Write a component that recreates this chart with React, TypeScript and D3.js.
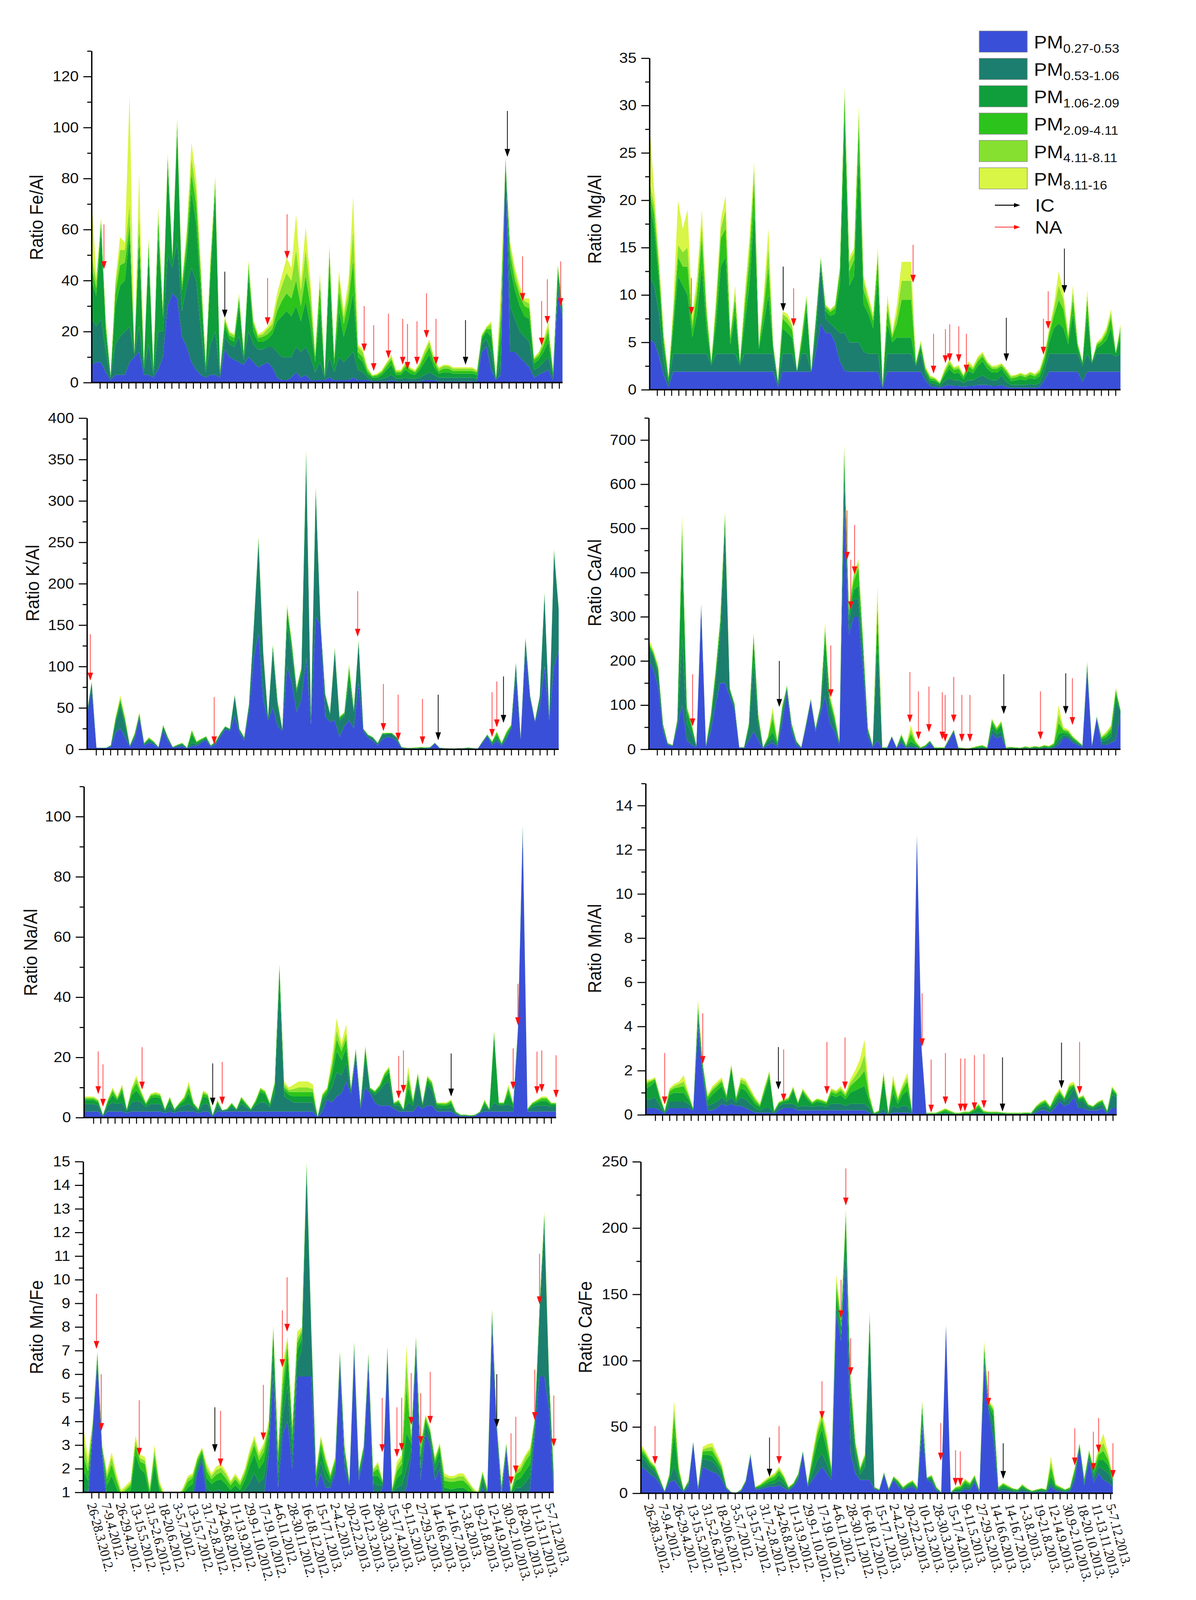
import { useEffect, useRef } from "react";
import * as d3 from "d3";

// sampling campaigns (one label every second tick)
const dateLabels = [
  "26-28.3.2012.", "7-9.4.2012.", "26-29.4.2012.", "13-15.5.2012.", "31.5-2.6.2012.", "18-20.6.2012.",
  "3-5.7.2012.", "13-15.7.2012.", "31.7-2.8.2012.", "24-26.8.2012.", "11-13.9.2012.", "29.9-1.10.2012.",
  "17-19.10.2012.", "4-6.11.2012.", "28-30.11.2012.", "16-18.12.2012.", "15-17.1.2013.", "2-4.2.2013.",
  "20-22.2.2013.", "10-12.3.2013.", "28-30.3.2013.", "15-17.4.2013.", "9-11.5.2013.", "27-29.5.2013.",
  "14-16.6.2013.", "14-16.7.2013.", "1-3.8.2013.", "19-21.8.2013.", "12-14.9.2013.", "30.9-2.10.2013.",
  "18-20.10.2013.", "11-13.11.2013.", "5-7.12.2013.",
];

const sizeFractions = ["0.27-0.53", "0.53-1.06", "1.06-2.09", "2.09-4.11", "4.11-8.11", "8.11-16"];
const fractionColors = ["#3a4fd8", "#1c7e6e", "#0f9e3b", "#2cc31c", "#86e02f", "#d9f545"];

// cumulative ratio up to each size fraction, 100 samples per panel
const feAl053 = [7,8,8,4,1,3,3,3,8,10, 12,3,3,2,5,10,30,35,33,18, 14,8,5,3,2,3,3,2,13,10, 9,8,7,10,8,6,7,8,6,2, 1,1,2,4,2,3,1,1,1,1, 2,1,1,1,1,2,1,1,1,0.5, 0.5,0.5,0.5,1,0.5,0.5,0.5,0.5,0.5,0.5, 1,1,1,0.5,0.5,0.5,0.5,0.5,0.5,0.5, 0.5,0.5,12,14,5,1,3,86,12,12, 10,8,6,2,3,4,5,1,35,25];
const feAl106 = [25,22,25,12,2,15,18,20,22,11, 22,5,15,3,20,20,50,45,55,28, 38,45,40,20,4,15,20,3,18,15, 14,18,9,20,15,13,13,14,14,12, 10,10,10,14,12,14,10,4,8,2, 10,4,10,8,10,12,5,4,2,1, 1,1.5,2,3,1.5,1.5,2,1.5,1.5,2, 3,4,3,2,2,2,2,2,2,2, 2,1.5,15,17,12,1.5,8,87,30,25, 20,18,16,5,6,8,10,2.5,38,27];
const feAl209 = [40,34,60,20,2.5,30,38,40,58,11.5, 55,6.5,50,4.5,58,26,85,48,98,36, 50,75,62,35,6,42,75,4,22,17, 16,30,10.5,42,20,16,16,17,19,24, 26,28,26,30,24,32,22,8,30,2.5, 44,7,28,18,25,35,10,8,3.5,2, 2,3,5,7,3,3,5,3.5,3,5, 8,11,6,3.5,4,4,3.5,3.5,3.5,3.5, 3.5,3,17,20,18,1.8,18,87.5,45,36, 30,26,25,7.5,9,12,16,3.5,43,29];
const feAl411 = [45,37,63,22,3,35,46,47,62,12, 60,7.5,54,5.5,64,28,88,49,101,38, 55,82,70,40,7,46,78,4.5,24,18.5, 17.5,33,11.5,45,23,17.5,18,19,21,28, 32,35,33,40,30,42,30,10,38,3, 50,9,36,23,32,48,12,10,4.5,2.5, 2.8,4,6.5,9,4,4,6.5,5,4,6.5, 10.5,14,8,4.5,5.5,5.5,4.5,4.5,4.5,4.5, 4.5,4,18,21,21,2,25,88,50,40, 34,30,29,9,10.5,14.5,20,4.5,45,29.5];
const feAl811 = [50,40,64,24,3,38,52,52,70,12, 66,8,56,6,67,29,89,50,103,39, 58,88,75,43,7.5,48,80,5,25,19.5, 18.5,34,12,47,24,18.5,19,21,23,32, 38,43,40,52,36,52,36,11,41,3, 53,10,41,26,36,60,14,12,5.5,2.8, 3.2,4.5,7.5,10,4.5,4.5,7.5,5.5,4.5,7.5, 12,16,9,5.5,6.5,6.5,5.5,5.5,5.5,5.5, 5.5,4.5,18.5,21.5,23,2,30,88,53,43, 36,32,31,9.5,11.5,16,22,5,46,30];
const feAl16 = [72,42,65,25,3,40,57,55,113,12, 82,8,57,6,69,30,90,50,104,40, 60,94,80,45,8,50,81,5,26,20, 19,35,12,48,25,19,20,22,25,35, 42,49,45,66,40,61,40,12,43,3, 54,10,44,28,40,73,15,13,6,3, 3.5,5,8,11,5,5,8,6,5,8, 13,17,10,6,7,7,6,6,6,6, 6,5,19,22,24,2,37,88,55,45, 38,33,33,10,12,17,24,5,46,30];

const mgAl053 = [5.3,5,3.5,1.5,0.3,1.9,1.9,1.9,1.9,1.9, 1.9,1.9,1.9,1.9,1.9,1.9,1.9,1.9,1.9,1.9, 1.9,1.9,1.9,1.9,1.9,1.9,1.9,0.3,1.9,1.9, 1.9,1.9,1.9,1.9,1.9,4,7,6,6,5, 3,2,1.9,1.9,1.9,1.9,1.9,1.9,1.9,0.2, 1.9,1.9,1.9,1.9,1.9,1.9,1.9,1.9,1,0.4, 0.3,0.2,0.4,0.5,0.4,0.4,0.3,0.4,0.4,0.5, 0.5,0.5,0.4,0.4,0.5,0.3,0.2,0.2,0.2,0.2, 0.2,0.2,0.3,1,1.9,1.9,1.9,1.9,1.9,1.9, 1.9,0.8,1.9,1.9,1.9,1.9,1.9,1.9,1.9,1.9];
const mgAl106 = [12,11,8,3,0.8,3.8,3.8,3.8,3.8,3.8, 3.8,3.8,3.8,2.6,3.8,3.8,3.8,3.8,3.8,2.6, 3.8,3.8,3.8,3.8,3.8,3.8,3.8,0.6,3.8,3.8, 3.8,1.95,3.8,3.8,1.95,6,13,7.5,7,6.5, 6,6,5,5,5,4,3.8,3.8,3.8,0.3, 3.8,3.8,3.8,3.8,3.8,3.8,2.5,3.8,1.6,0.7, 0.6,0.4,0.9,1.2,1,1,0.7,1,1,1.3, 1.5,1.2,1,1,1.5,0.8,0.5,0.5,0.5,0.5, 0.6,0.5,0.7,2,3.8,3.8,3.8,3.8,3.8,3.8, 3.8,2.5,3.8,2.8,3.8,3.8,3.8,3.8,3.5,3.8];
const mgAl209 = [20,17,11.5,4.5,1.1,6.5,12,11,10,5.5, 8,13,6.5,2.8,7,13,14,4.8,8,2.8, 7,11,19,4.3,7,10,4.3,0.8,6.5,6, 5.5,2,4.8,8.5,2,7.3,13.5,8.3,7.8,8, 11,29,11,12,25,9,8,6.5,12,0.4, 7,5,5.5,5.5,5.5,5.5,2.7,4.5,2,1, 0.9,0.6,1.5,2.2,1.7,1.8,1.1,2,1.7,2.5, 3,2.2,1.8,1.8,2.2,1.5,0.9,1,1.1,1, 1.2,1.1,1.4,2.8,5,6.5,7,6.5,4.8,8, 4.4,2.8,8,2.9,4.4,4.7,5.2,6.5,3.8,5.5];
const mgAl411 = [21,18.5,12.5,5.2,1.3,7.5,14,13,13,6.5, 10,16,7.8,2.9,8.5,16,17,5.4,9.5,2.9, 8.5,13.5,22,4.6,8.5,13,4.6,0.9,7.5,7, 6.3,2,5.5,9.5,2,7.7,13.8,8.7,8.2,8.6, 12.4,31,12.5,13.7,28,10.5,9,7.3,13.8,0.45, 8.5,5.5,7,9.5,9.5,9.5,2.8,4.8,2.2,1.2, 1.1,0.7,1.8,2.7,2.1,2.2,1.4,2.5,2.1,3, 3.5,2.7,2.2,2.2,2.5,1.9,1.2,1.3,1.5,1.3, 1.6,1.4,1.8,3.3,5.8,7.8,9.5,8.5,5.4,9.5, 4.7,2.9,9.5,3,4.7,5.1,5.9,7.6,3.9,6.3];
const mgAl811 = [22,19.5,13.2,5.6,1.4,8.2,15.3,14.5,15,7.2, 11,17.5,8.5,3,9.3,17,19,5.8,10.3,3, 9.3,15,23.2,4.8,9.3,15,4.8,1,8,7.6, 6.7,2,5.8,9.8,2,7.9,14,8.9,8.4,8.9, 12.8,31.7,13.5,14.5,29.3,11.5,9.6,7.7,14.5,0.5, 9.3,5.8,8,11.5,11.5,11.5,2.9,5,2.3,1.4, 1.2,0.75,2,3,2.3,2.4,1.5,2.8,2.3,3.3, 3.8,2.9,2.4,2.4,2.7,2.1,1.4,1.5,1.7,1.5, 1.8,1.6,2,3.6,6.2,8.5,11,9.5,5.7,10.3, 4.9,3,10,3,4.9,5.3,6.2,8.1,4,6.7];
const mgAl16 = [28,21,14,6,1.5,9,20,17,19,8, 12,19,9,3,10,18,20.5,6,11,3, 10,16,24,5,10,17,5,1,8.3,8, 7,2,6,10,2,8,14,9,8.5,9, 13,32,14,15,30,12,10,8,15,0.5, 10,6,9,13.5,13.5,13.5,3,5.2,2.5,1.5, 1.3,0.8,2.2,3.2,2.4,2.6,1.6,3,2.5,3.5, 4,3,2.5,2.6,2.8,2.2,1.5,1.6,1.8,1.6, 1.9,1.7,2.2,3.8,6.5,9,12.5,10.3,6,11, 5,3,10.5,3,5,5.5,6.5,8.5,4,7];

const kAl053 = [40,72,1.5,1.5,1.5,3,20,25,15,3, 12,38,5,8,6,2,22,10,2,3, 4,1,4,4,8,11,3,6,15,24, 22,40,20,11,45,110,140,60,35,50, 28,22,100,80,45,60,110,30,160,150, 40,33,35,15,28,35,25,80,22,14, 10,5,12,15,14,10,1.5,1,0.8,0.8, 1,1,1.5,7,1.2,1,0.8,0.6,0.8,0.8, 1,0.8,0.6,8,16,5,10,4,12,25, 90,12,120,60,33,50,100,35,100,120];
const kAl106 = [44,80,1.8,1.8,1.8,4,32,52,30,4, 16,41,6.5,11,8,2.5,27,13,2.5,4.5, 6,1.5,8,6,10,13,4,8,18,26.5, 24,64,23,13.5,53,145,248,112,38,120, 52,24,150,115,68,92,345,37,310,153, 64,42,118,35,40,80,45,128,24,16.5, 13.5,7,17.5,18,18,13.5,2.2,1.4,1.2,1.3, 1.5,1.5,2,7.5,1.6,1.2,1,0.8,1.1,1.1, 1.5,1.1,0.8,9,17,7,13,6,15,27, 103,14,133,63.5,34.3,62,186,38.5,236,167];
const kAl209 = [44.5,81,1.9,1.9,1.9,4.5,35,57,34,4.5, 17.5,42,7,12.5,8.8,2.7,28,13.8,2.7,5, 6.8,1.7,18,8,11.5,14.5,4.5,9,19,27.3, 24.5,65,24,14.2,54,148,253,116,39,124, 56,24.5,166,123,72,96,355,38.5,314,154, 66,43.5,120.5,37.5,42.5,92,47.5,130,24.5,17.2, 14.2,7.5,18.8,19,19,14.2,2.6,1.6,1.5,1.7, 2,1.9,2.4,7.7,1.8,1.3,1.1,0.9,1.3,1.3, 1.9,1.3,0.9,9.5,17.5,8.5,17,7,18,28.5, 104,14.5,134,64.3,34.7,63.5,188,39.3,239,168.5];
const kAl411 = [44.8,81.5,2,2,2,4.8,37,60,36,4.8, 18.5,43,7.5,13.5,9.4,2.9,29,14.4,2.9,5.5, 7.4,1.9,22,9,12.3,15.3,4.8,9.5,19.5,27.7, 24.8,65.5,24.5,14.6,54.5,149,255,118,39.5,125.5, 58,24.8,171,127,74,98,359,39.3,316,154.5, 67,44.3,122,38.8,44,99,49,131,24.8,17.6, 14.6,7.8,19.4,19.5,19.5,14.6,2.8,1.8,1.8,2.1, 2.5,2.2,2.7,7.9,1.9,1.4,1.15,0.95,1.4,1.4, 2.2,1.4,0.95,9.8,17.8,9.4,20,7.6,20,29.3, 104.5,14.8,134.5,64.7,34.9,64.3,189,39.7,240.5,169.3];
const kAl811 = [45,82,2,2,2,5,38,62,38,5, 19.2,44,7.8,14.2,9.8,3,29.6,14.8,3,5.8, 7.8,2,23.3,9.6,12.8,15.8,5,9.8,19.8,28, 25,66,25,15,55,150,256,119,40,126.5, 59,25,173,129,74.5,99,361,39.8,317,155, 67.5,44.7,122.6,39.5,44.6,101.5,49.6,131.6,25,17.9, 14.9,8,19.8,19.8,19.8,14.9,3,1.9,1.9,2.4, 2.8,2.4,2.9,8,2,1.5,1.2,1,1.5,1.5, 2.4,1.5,1,10,18,9.8,21.3,7.9,21,29.8, 105,15,135,65,35,64.8,189.6,40,241.4,169.8];
const kAl16 = [45,82,2,2,2,5,40,65,40,5, 20,45,8,15,10,3,30,15,3,6, 8,2,24,10,13,16,5,10,20,28, 25,66,25,15,55,150,257,120,40,127, 60,25,175,130,75,100,362,40,318,155, 68,45,123,40,45,103,50,132,25,18, 15,8,20,20,20,15,3,2,2,2.5, 3,2.5,3,8,2,1.5,1.2,1,1.5,1.5, 2.5,1.5,1,10,18,10,22,8,22,30, 105,15,135,65,35,65,190,40,242,170];

const caAl053 = [200,180,140,40,10,7,50,100,20,10, 5,320,6,40,100,150,150,120,90,3, 3,20,40,20,2,10,15,5,60,130, 40,10,3,50,110,40,80,120,60,40, 10,540,260,300,300,180,30,5,20,2, 2,28,3,15,3,5,3,1,3,15, 1,1,1,20,40,1,0.5,0.5,1,1, 2,1,35,25,30,1,1,1,0.8,1.5, 1,1.5,1,2,1.5,3,10,25,25,15, 10,5,180,7,70,10,10,15,20,80];
const caAl106 = [230,210,170,50,12,8.5,60,250,60,35, 7,326,8,60,150,260,500,132,98,4, 4,45,200,55,3.5,18,25,10,80,138, 50,15,4,55,112,45,90,200,90,55, 14,620,290,340,340,210,40,7,240,3, 3,29,4,22,5,10,6,2,5,17, 2,2,2,22,42,2,1,1,2,3, 4,2,45,35,40,2,2.5,2,1.5,3, 2,3,2.5,4,3,6,20,32,30,20, 13,7,188,8.5,72,18,20,28,110,85];
const caAl209 = [236,215,178,54,13,9,64,460,85,50, 8.5,328,9,70,165,280,520,136,101,4.5, 4.5,53,245,68,4.2,23,40,14,90,141, 54,17,4.5,57,113,47,94,250,105,65, 16,660,305,360,370,225,44,8.5,290,4, 4,29.4,4.5,28,7,18,10,3,7,18.5, 3,3,3,23,43.5,3,1.8,1.4,3,5, 6.5,3,58,42,55,3,4,3,2.5,4.5, 3,5,4,6.5,5,9,35,38,35,24, 16,8.5,193,9.2,73.5,23,27,38,125,87];
const caAl411 = [240,218,183,57,14,9.5,67,500,93,55, 9.3,329,9.5,75,172,290,530,138,103,4.8, 4.8,57,258,75,4.6,26,70,17,95,143, 57,18.5,4.8,58.5,114,48.5,97,270,115,72, 18,675,315,380,410,238,47,9.3,320,4.5, 4.5,29.7,4.8,32,8.5,35,15,4,8.5,19.3, 4,4,4,24,44.3,4,2.4,1.7,4,6.5, 8.5,4,65,46,60,4,5,4,3.2,6, 4,6.5,5,8.5,6.5,12,60,43,40,27, 18,9.3,196,9.6,74.3,26,33,46,133,88.5];
const caAl811 = [244,221,186,58.5,14.5,9.8,68.5,515,97,58, 9.7,329.5,9.8,78,176,295,535,139,104,5, 5,58.5,262,78,4.8,28,85,18.5,98,144, 58.5,19.3,5,59.3,114.5,49.3,98.5,278,120,76, 19,683,322,392,422,245,48.5,9.7,340,4.8, 4.8,29.9,5,34,9.3,45,18,4.5,9.3,19.7, 4.5,4.5,4.5,24.5,44.7,4.5,2.8,1.9,4.5,7.3, 9.3,4.5,68,48.5,63,4.5,5.6,4.5,3.7,6.6, 4.5,7.4,5.6,9.3,7.4,13.5,80,46,42.5,28.5, 19,9.7,198,9.8,74.7,28,37,51,137,89.3];
const caAl16 = [250,225,190,60,15,10,70,530,100,60, 10,330,10,80,180,300,540,140,105,5, 5,60,265,80,5,30,95,20,100,145, 60,20,5,60,115,50,100,285,125,80, 20,690,330,400,430,250,50,10,370,5, 5,30,5,35,10,55,20,5,10,20, 5,5,5,25,45,5,3,2,5,8, 10,5,70,50,65,5,6,5,4,7, 5,8,6,10,8,15,100,50,45,30, 20,10,200,10,75,30,40,55,140,90];

const naAl053 = [2,2,2,2,0.5,2,2,2,2,1.5, 2,2,2,2,2,2,2,1.5,2,1.5, 2,2,2,2,1.5,2,2,0.5,2,2, 2,2,2,2,2,2,2,2,2,2, 2,2,2,2,2,2,2,2,2,0.2, 2,6,5,7,8,12,8,20,3,10, 8,5,4,4,4,3,2,2,2,2, 4,3,4,4,2,2,2,2,1,0.5, 0.5,0.4,0.5,1.5,2,2,2,2,2,2, 2,28,95,2,2,2,2,2,2,2];
const naAl106 = [4.5,4.5,4.5,4,0.7,4,5,4.5,5,2.2, 5,5.5,5,3.5,4.5,4.5,4.5,2.2,4,2.2, 3.5,4,4.5,3.5,2.2,4.5,4.5,0.7,4,2.3, 2.5,3.5,2.5,4.5,3.5,2.5,4,5,5,3.5, 8,45,7,6,5,5,5,5,5,0.3, 5,7.5,10,15,14,18,9,21.5,4,20, 9,7.5,9,11,12,4,4,2.5,5,4, 12,4,11,9,3.5,3,3,3.5,1.4,0.7, 0.7,0.55,0.7,1.7,3.5,2.5,5,4,4,4.5, 3.5,29,96,2.5,3.5,4,4,4,3.5,3.5];
const naAl209 = [5.8,5.8,5.8,5,0.8,5,7.5,5.8,8.5,2.6, 7.5,9,7,4.3,6.5,6.8,6.5,2.6,5.8,2.6, 4.3,5.5,8,4.3,2.6,7,6.5,0.8,5,2.4, 2.7,4.3,2.7,6,4.3,2.7,5,8.5,7.8,4.3, 10.5,49.5,9,7.5,7,7,7,7,7,0.4, 6.5,8.5,14,22,19,23,9.5,22.3,4.5,22.5, 9.5,8.3,10,13.5,15,4.5,5,2.7,10,5, 13.5,4.5,12.5,10.5,4.3,4,4,4.7,1.7,0.8, 0.8,0.65,0.8,1.8,4.7,2.7,27,4.5,4.5,8, 4.3,29.5,96.5,2.7,4.3,5,5.5,5.5,4.3,4.3];
const naAl411 = [6.3,6.3,6.3,5.5,0.9,5.5,8.8,6.3,9.8,2.8, 8.8,11.5,8,4.7,7.3,7.6,7.3,2.8,6.5,2.8, 4.7,6.3,10,4.7,2.8,8,7.3,0.9,5.5,2.45, 2.85,4.7,2.85,6.6,4.7,2.85,5.5,9.4,8.5,4.7, 11.4,50.5,10,8.5,8.5,8.5,8.5,8.5,8.5,0.45, 7.3,9.3,16.5,26,22,26,9.8,22.7,4.8,23.3, 9.8,8.7,10.5,14.3,16.2,4.8,5.5,2.85,13,5.5, 14.3,4.8,13.3,11.4,4.7,4.5,4.5,5.4,1.9,0.9, 0.9,0.75,0.9,1.9,5.4,2.85,28.3,4.8,4.8,9.5, 4.7,29.8,96.8,2.85,4.7,5.5,6.3,6.3,4.7,4.7];
const naAl811 = [6.7,6.7,6.7,5.8,1,5.8,9.5,6.7,10.5,2.9, 9.5,13,8.6,4.9,7.7,8.1,7.7,2.9,6.8,2.9, 4.9,6.7,11,4.9,2.9,8.6,7.7,1,5.8,2.5, 2.95,4.9,2.95,6.9,4.9,2.95,5.8,9.8,8.8,4.9, 11.8,50.9,11,9.2,9.5,10,10,10,9.5,0.5, 7.7,9.7,18,29,23.5,28,10,23,5,23.7, 10,8.9,10.8,14.7,16.7,5,5.8,2.95,15,5.8, 14.7,5,13.7,11.8,4.9,4.8,4.8,5.8,2,1, 1,0.8,1,2,5.8,2.95,28.7,5,5,10.3, 4.9,30,97,2.95,4.9,5.8,6.7,6.7,4.9,4.9];
const naAl16 = [7,7,7,6,1,6,10,7,11,3, 10,14,9,5,8,8.5,8,3,7,3, 5,7,12,5,3,9,8,1,6,2.5, 3,5,3,7,5,3,6,10,9,5, 12,51,12,10,11,12,12,12,11,0.5, 8,10,20,33,25,31,10,23,5,24, 10,9,11,15,17,5,6,3,17,6, 15,5,14,12,5,5,5,6,2,1, 1,0.8,1,2,6,3,29,5,5,11, 5,30,97,3,5,6,7,7,5,5];

const mnAl053 = [0.3,0.3,0.3,0.2,0.05,0.3,0.3,0.3,0.3,0.3, 0.2,4,1.8,0.2,0.2,0.3,0.5,0.4,0.5,0.4, 0.4,0.3,0.2,0.1,0.1,0.1,0.1,0.05,0.2,0.3, 0.3,0.3,0.2,0.2,0.2,0.2,0.2,0.2,0.2,0.2, 0.2,0.2,0.2,0.2,0.2,0.2,0.2,0.1,0.02,0.05, 0.1,0.02,0.1,0.1,0.1,0.1,0.05,12.6,2.95,0.02, 0.02,0.02,0.03,0.04,0.03,0.02,0.02,0.02,0.02,0.04, 0.05,0.03,0.02,0.02,0.02,0.02,0.02,0.02,0.02,0.02, 0.02,0.02,0.1,0.2,0.2,0.1,0.3,0.6,0.4,0.5, 0.8,0.3,0.3,0.2,0.2,0.2,0.3,0.05,0.3,0.3];
const mnAl106 = [0.7,0.7,0.8,0.4,0.1,0.6,0.6,0.6,0.6,0.5, 0.25,4.4,2,0.4,0.5,0.6,0.8,0.6,0.8,0.55, 0.8,0.7,0.5,0.3,0.2,0.3,0.3,0.1,0.4,0.5, 0.5,0.5,0.35,0.4,0.4,0.35,0.4,0.4,0.35,0.5, 0.5,0.5,0.4,0.5,0.5,0.5,0.5,0.3,0.04,0.1, 0.3,0.04,0.4,0.3,0.4,0.4,0.1,12.65,2.97,0.04, 0.04,0.04,0.06,0.08,0.06,0.04,0.04,0.05,0.05,0.08, 0.1,0.06,0.05,0.05,0.05,0.05,0.04,0.04,0.04,0.04, 0.05,0.04,0.2,0.35,0.4,0.25,0.5,0.8,0.6,0.8, 1.2,0.6,0.6,0.35,0.3,0.4,0.45,0.1,0.9,0.8];
const mnAl209 = [1.2,1.3,1.5,0.7,0.15,0.9,1,1,1,0.7, 0.27,4.7,2.2,0.65,0.9,1.1,1.3,0.75,2.1,0.65, 1.2,1.1,0.8,0.5,0.35,1,1.7,0.15,0.5,0.6, 0.65,1.1,0.5,1,0.7,0.48,0.6,0.55,0.48,0.9, 0.8,0.9,0.7,1,1.1,1.2,1.3,0.6,0.06,0.14, 1.6,0.06,1,0.5,0.9,1.1,0.14,12.67,2.98,0.06, 0.06,0.06,0.1,0.17,0.1,0.06,0.06,0.08,0.08,0.18, 0.35,0.1,0.08,0.08,0.08,0.08,0.06,0.06,0.06,0.06, 0.08,0.06,0.3,0.45,0.55,0.32,0.65,0.95,0.7,1.1, 1.3,0.7,0.75,0.42,0.35,0.5,0.58,0.15,1.1,0.9];
const mnAl411 = [1.4,1.5,1.6,0.8,0.18,1.05,1.2,1.25,1.3,0.85, 0.29,4.9,2.3,0.8,1.1,1.3,1.5,0.85,2.2,0.75, 1.45,1.35,1,0.65,0.42,1.15,1.85,0.18,0.55,0.65, 0.72,1.2,0.55,1.1,0.8,0.55,0.68,0.63,0.55,1.05, 0.95,1.1,0.85,1.3,1.5,1.7,2,0.8,0.08,0.17, 1.8,0.08,1.4,0.65,1.15,1.5,0.17,12.68,2.99,0.08, 0.08,0.08,0.15,0.24,0.15,0.08,0.08,0.12,0.12,0.25, 0.43,0.15,0.12,0.12,0.12,0.1,0.08,0.08,0.08,0.08, 0.1,0.08,0.35,0.52,0.62,0.36,0.78,1.05,0.75,1.25, 1.35,0.75,0.82,0.46,0.38,0.55,0.65,0.18,1.2,0.95];
const mnAl811 = [1.5,1.55,1.65,0.85,0.2,1.15,1.3,1.4,1.5,0.95, 0.3,5.05,2.35,0.85,1.2,1.4,1.6,0.9,2.25,0.8, 1.6,1.5,1.1,0.75,0.47,1.25,1.95,0.2,0.58,0.68, 0.77,1.25,0.58,1.15,0.85,0.58,0.72,0.67,0.58,1.15, 1.05,1.2,0.95,1.45,1.75,2.1,2.7,0.9,0.1,0.19, 1.9,0.1,1.6,0.75,1.3,1.7,0.19,12.7,3,0.1, 0.1,0.1,0.18,0.28,0.18,0.1,0.1,0.14,0.14,0.28, 0.47,0.18,0.14,0.14,0.14,0.11,0.1,0.1,0.1,0.1, 0.11,0.1,0.38,0.57,0.67,0.38,0.85,1.12,0.78,1.32, 1.4,0.78,0.87,0.48,0.39,0.58,0.68,0.2,1.25,0.98];
const mnAl16 = [1.6,1.6,1.7,0.9,0.2,1.2,1.4,1.5,1.8,1, 0.3,5.2,2.4,0.9,1.3,1.5,1.7,0.9,2.3,0.8, 1.7,1.6,1.2,0.8,0.5,1.3,2,0.2,0.6,0.7, 0.8,1.3,0.6,1.2,0.9,0.6,0.75,0.7,0.6,1.2, 1.1,1.3,1,1.6,2,2.5,3.4,1,0.1,0.2, 2,0.1,1.8,0.8,1.4,1.9,0.2,12.7,3,0.1, 0.1,0.1,0.2,0.3,0.2,0.1,0.1,0.15,0.15,0.3, 0.5,0.2,0.15,0.15,0.15,0.12,0.1,0.1,0.1,0.1, 0.12,0.1,0.4,0.6,0.7,0.4,0.9,1.2,0.8,1.4, 1.5,0.8,0.9,0.5,0.4,0.6,0.7,0.2,1.3,1];

const mnFe053 = [0.5,0.5,3.6,6.5,2.6,0.5,0.5,0.4,0.3,0.3, 0.3,0.5,0.5,0.5,0.3,0.5,0.3,0.2,0.2,0.2, 0.2,0.3,0.4,0.6,1.8,2.3,0.8,0.5,0.6,0.6, 0.5,0.4,0.5,0.4,0.5,0.6,0.8,0.6,0.8,2.5, 6,1.2,3.5,4,2,5.9,5.9,5.9,5.9,1.2, 1.8,1.2,1.2,1.8,6.5,2,1.3,6.9,1.5,2.5, 6.4,1,0.8,1.2,6.8,0.8,0.8,0.8,1.2,2.5, 7,1.5,3.5,3,1.5,2,0.4,0.4,0.4,0.4, 0.4,0.3,0.3,0.2,1.2,0.8,8,3.6,0.8,2.8, 0.6,0.8,0.8,0.9,1.1,3.5,5.9,5.9,4.5,0.8];
const mnFe106 = [1.2,1,3.7,6.7,2.75,0.9,1.1,0.8,0.5,0.6, 0.7,1,1,1,0.6,1,0.7,0.4,0.4,0.4, 0.4,0.6,0.8,1,2,2.5,1.2,1,1.1,1.1, 1,0.8,1,0.8,1.1,1.4,1.8,1.4,1.6,3, 7,1.8,4.3,5.5,2.6,6.5,7,14.5,7.5,1.5, 2.3,1.6,1.4,2,6.7,2.4,1.38,7.1,1.7,2.7, 6.6,1.4,1.3,1.3,7,0.95,1.2,1.3,2,2.8, 7.3,2,3.8,3.3,1.9,2.4,0.8,0.8,0.8,0.8, 0.8,0.7,0.6,0.5,1.5,0.95,8.4,3.75,1,2.9, 0.8,1.2,1.2,1.4,1.7,3.8,8.5,12.3,5.5,1.2];
const mnFe209 = [2,1.5,3.8,6.85,2.85,1.3,1.7,1.2,0.7,0.9, 1.1,2.6,2,1.8,0.9,2.2,1.1,0.6,0.6,0.55, 0.6,0.9,1.2,1.35,2.2,2.65,1.6,1.35,1.5,1.55, 1.35,1.1,1.3,1.1,1.5,2.1,2.6,2,2.3,3.4, 7.7,2.3,5,6.8,3.2,7,7.5,14.8,7.8,1.7, 2.8,2,1.55,2.2,6.85,2.7,1.44,7.25,1.85,2.85, 6.75,1.7,1.7,1.4,7.1,1.05,1.6,1.8,3.5,3.1, 7.45,2.5,4,3.5,2.2,2.75,1.2,1.15,1.15,1.2, 1.2,1.05,0.85,0.7,1.7,1.05,8.6,3.85,1.2,3, 0.95,1.5,1.6,1.9,2.2,4,8.8,12.6,5.8,1.5];
const mnFe411 = [2.6,1.9,3.9,6.92,2.92,1.6,2.2,1.5,0.9,1.1, 1.3,3,2.3,2.2,1.05,2.6,1.3,0.8,0.75,0.65, 0.75,1.05,1.45,1.6,2.35,2.78,1.9,1.55,1.75,1.85, 1.6,1.3,1.55,1.3,1.75,2.45,3,2.35,2.7,3.7, 7.9,2.65,5.6,7.2,3.6,7.3,7.75,14.9,7.9,1.85, 3.1,2.3,1.68,2.35,6.92,2.85,1.47,7.33,1.93,2.93, 6.83,1.85,2,1.45,7.15,1.12,1.9,2.2,5.5,3.3, 7.53,2.8,4.15,3.6,2.35,2.95,1.5,1.45,1.45,1.5, 1.5,1.3,1.05,0.85,1.8,1.12,8.7,3.92,1.3,3.05, 1.03,1.75,1.9,2.3,2.6,4.1,8.9,12.75,5.9,1.75];
const mnFe811 = [3.2,2.2,3.95,6.97,2.97,1.75,2.5,1.65,1,1.2, 1.4,3.2,2.45,2.35,1.15,2.8,1.4,0.9,0.85,0.75, 0.85,1.15,1.6,1.72,2.45,2.85,2.05,1.7,1.95,2.05, 1.78,1.42,1.7,1.42,1.9,2.65,3.25,2.55,2.95,3.85, 8,2.85,6.1,7.45,3.85,7.5,7.9,14.95,7.95,1.95, 3.3,2.42,1.75,2.45,6.97,2.95,1.5,7.38,1.98,2.98, 6.88,1.95,2.2,1.5,7.18,1.17,2.1,2.45,6.6,3.42, 7.58,3,4.25,3.67,2.45,3.05,1.68,1.6,1.6,1.68, 1.68,1.42,1.15,0.95,1.87,1.17,8.75,3.97,1.36,3.08, 1.07,1.9,2.05,2.5,2.8,4.15,8.95,12.85,5.95,1.9];
const mnFe16 = [3.8,2.5,4,7,3,1.9,2.7,1.8,1.1,1.3, 1.5,3.4,2.6,2.5,1.2,3,1.5,1,0.9,0.8, 0.9,1.2,1.7,1.8,2.5,2.9,2.2,1.8,2.1,2.2, 1.9,1.5,1.8,1.5,2,2.8,3.4,2.7,3.1,4, 8.1,3,6.5,7.6,4,7.8,8,15,8,2, 3.4,2.5,1.8,2.5,7,3,1.5,7.4,2,3, 6.9,2,2.3,1.5,7.2,1.2,2.3,2.6,7.2,3.5, 7.6,3.1,4.3,3.7,2.5,3.1,1.8,1.7,1.7,1.8, 1.8,1.5,1.2,1,1.9,1.2,8.8,4,1.4,3.1, 1.1,2,2.2,2.6,2.9,4.2,9,12.9,6,2];

const caFe053 = [20,18,14,12,7,1,8,10,5,1, 5,38,3,20,18,16,15,10,3,0.5, 0.2,1.5,8,28,3,3,4,5,5,6, 4,2,5,10,30,5,10,15,20,15, 10,135,115,180,30,15,10,10,10,3, 2,14,2,10,5,2,4,5,2,50, 10,8,2,0.5,126,0.5,1,1,3,2, 8,1,95,60,40,1,2,1.5,1,0.8, 1.5,1,0.5,0.8,1,0.8,5,2,1.5,1, 1.5,10,35,6,25,8,15,10,8,5];
const caFe106 = [28,24,19,16,9,1.4,11,20,10,1.8, 7,38.5,4,26,25,24,20,14,3.7,0.7, 0.3,2,8.8,29,3.7,4.2,5.5,7,7.5,10, 7,3,6,12,31,6,15,25,30,22, 13,140,120,195,60,28,14,20,125,3.7, 2.4,14.8,2.8,11,6.5,3,5.2,6.5,3,55, 10.8,10.5,3,0.7,126.5,0.7,2,2,5,4, 10,1.8,100,63,50,2.5,4,3,2,1.5, 3.5,2,1,1.5,2,1.5,8,3.5,2.5,1.6, 2.5,13,36,8,28,12,20,18,15,8];
const caFe209 = [31,27,21.5,18,10.3,1.6,12.5,45,14,2.3, 8.3,38.7,4.4,29,29,28,23,17,4.2,0.8, 0.4,2.4,9.3,29.4,4.2,5.2,7,9,10,14, 10,3.8,6.8,13.5,31.5,6.8,22,38,48,33, 16,148,126,207,75,34,17,25,131,4.2, 2.7,15.3,3.3,11.8,8,3.8,6.3,8,3.8,63, 11.3,12,3.8,0.8,126.7,0.8,3,3.5,7.5,5.8, 11.5,2.3,105,66,58,3.5,5.8,4.3,2.9,2.2, 5,2.9,1.4,2.2,2.9,2.2,13,5,3.5,2.2, 3.5,16,36.8,10,30,15,25,25,21,9.5];
const caFe411 = [33,29,23,19.5,11,1.8,13.5,58,17,2.6, 9,38.9,4.7,31.5,32,32,26,19,4.6,0.9, 0.45,2.7,9.6,29.7,4.6,6,8.5,11,12.5,17, 12,4.4,7.4,14.3,31.8,7.4,26,44,55,39, 18,155,130,211,83,37,18.5,28,134,4.6, 2.85,15.7,3.7,12.4,9,4.4,7.2,9,4.4,67, 11.7,13,4.4,0.9,126.9,0.9,4,4.8,9.3,7, 13,2.7,110,68,62,4.3,7,5.2,3.5,2.7, 6,3.5,1.7,2.7,3.5,2.7,20,6,4.3,2.7, 4.3,18,37.4,11,31.5,17.5,29,32,25,10.8];
const caFe811 = [35,30.5,24,20.3,11.5,1.9,14.3,64,18.5,2.8, 9.5,39,4.9,33,34.5,35,28,20.5,4.8,1, 0.5,2.9,9.8,29.9,4.8,6.5,9.3,12,14,18.5, 13,4.7,7.7,14.7,32,7.7,28,47,59,42, 19,160,133,213,87,38.5,19.3,29,136,4.8, 2.95,15.9,3.9,12.8,9.5,4.7,7.6,9.5,4.7,68.8, 11.9,13.6,4.7,1,127,1,4.6,5.5,10.3,7.6, 13.6,2.9,112,69,63.5,4.7,7.6,5.6,3.8,2.9, 6.6,3.8,1.9,2.9,3.8,2.9,24,6.6,4.7,2.9, 4.7,19,37.8,11.6,32.3,19,32,38,28,11.5];
const caFe16 = [37,32,25,21,12,2,15,70,20,3, 10,39,5,35,37,38,30,22,5,1, 0.5,3,10,30,5,7,10,13,15,20, 14,5,8,15,32,8,30,50,62,45, 20,165,135,215,90,40,20,30,137,5, 3,16,4,13,10,5,8,10,5,70, 12,14,5,1,127,1,5,6,11,8, 14,3,115,70,65,5,8,6,4,3, 7,4,2,3,4,3,28,7,5,3, 5,20,38,12,33,20,35,45,30,12];

// arrows: [sample position, tip value, tail value]
const feAlIC = [[28,25.5,43.5],[78.6,7,24.5],[87.4,88.5,106.5]];
const feAlNA = [[2.6,44.5,62],[37,22.5,41],[41.1,48.5,66],[57.3,12.2,30],[59.3,4.5,22.5],[62.4,9.5,27],[65.4,7,25],[66.4,5,23],[68.4,7,24],[70.4,17.5,35],[72.4,7,25],[90.6,32,49.5],[94.6,14.5,32],[95.8,23,40.5],[98.6,30,47.5]];
const mgAlIC = [[28.1,8.3,13],[75,3,7.6],[87.2,10.2,14.9]];
const mgAlNA = [[8.8,7.9,11.8],[30.3,6.7,10.7],[55.4,11.3,15.3],[59.7,1.7,5.9],[62.2,2.8,6.4],[63.1,3,6.9],[65,2.9,6.7],[66.6,1.8,5.9],[82.8,3.7,7.5],[83.8,6.4,10.4]];
const kAlIC = [[73.7,11,66],[87.4,32,88]];
const kAlNA = [[0.7,83,139],[26.7,6,63],[56.8,136,191],[62.2,22,79],[65.3,10.5,66],[70.4,6,61],[85,15,69],[86,26.5,82]];
const caAlIC = [[27.4,96,200],[74.5,80,170],[87.5,80,172]];
const caAlNA = [[9.2,52,170],[38.2,118,235],[41.6,429,541],[42.4,317,429],[43.2,396,508],[54.8,60.5,175],[56.6,22,131],[58.8,39,142],[61.6,22,129],[62.2,17,123],[64,60.5,164],[65.7,17,123],[67.4,17,123],[82.2,22,131],[88.9,55,161]];
const naAlIC = [[27,4,18],[77,7,21.3]];
const naAlNA = [[3,7.8,22],[4,3.6,17.7],[12.2,9.3,23.4],[29,4.3,18.5],[66,6.3,20.5],[67,8.2,22.3],[90,9.3,23],[91,30.7,44.4],[95,7.8,21.9],[96,8.5,22.3],[99,6.6,20.7]];
const mnAlIC = [[27.9,1.15,3.07],[75,0.15,2.6],[87.4,1.2,3.27]];
const mnAlNA = [[4,0.47,2.8],[12,2.3,4.6],[29,0.6,2.96],[38.1,0.94,3.3],[41.9,1.15,3.5],[58.1,3.1,5.5],[60,0.1,2.5],[63,0.47,2.8],[66.2,0.15,2.55],[67.1,0.15,2.55],[69.1,0.2,2.7],[71.1,0.3,2.75],[91.2,0.94,3.3]];
const mnFeIC = [[27.7,2.7,4.6],[87,3.77,6]];
const mnFeNA = [[2.8,7.07,9.4],[3.8,3.6,6],[11.8,2.55,4.9],[28.9,2.1,4.45],[37.9,3.2,5.55],[41.9,6.3,8.7],[42.9,7.8,10.1],[62.9,2.7,5],[66,2.5,4.6],[67,2.75,5],[69,3.86,6.05],[71,3.04,5.2],[73,3.9,6.1],[90,1.34,3.5],[91,1.8,4.2],[95,4.06,6.2],[96,8.96,11.1],[99,2.94,5.1]];
const caFeIC = [[27,12.5,42],[76,10.8,37.7]];
const caFeNA = [[3,22,50.7],[29,22,50.7],[38,56,84.5],[42,132,161],[43,217,245],[44,89,117],[62.9,24.7,53],[66,5.6,32.5],[67,5.6,31.6],[72.9,66,92],[91,21,49],[94.9,16.8,46.4],[96,30.7,56.8],[99,11.6,37.7]];

const FONT = "'Liberation Sans', Arial, Helvetica, sans-serif";
const SERIF = "'Liberation Serif', 'Times New Roman', serif";
const W = 3062;
const H = 4445;

const panels = [
  { title: "Ratio Fe/Al", layers: [feAl053, feAl106, feAl209, feAl411, feAl811, feAl16], ic: feAlIC, na: feAlNA,
    x0: 234.4, x1: 1440.3, t1: 255.8, t65: 1431.5, yBase: 1062.9, yMin: 0, yRef: 120, yRefPx: 212.6, yTop: 130, step: 20, minor: 10, tx: 93, ty: 604, dates: false },
  { title: "Ratio Mg/Al", layers: [mgAl053, mgAl106, mgAl209, mgAl411, mgAl811, mgAl16], ic: mgAlIC, na: mgAlNA,
    x0: 1662.8, x1: 2868.8, t1: 1682.4, t65: 2856, yBase: 1082.7, yMin: 0, yRef: 35, yRefPx: 161.6, yTop: 35, step: 5, minor: 2.5, tx: 1522, ty: 609, dates: false },
  { title: "Ratio K/Al", layers: [kAl053, kAl106, kAl209, kAl411, kAl811, kAl16], ic: kAlIC, na: kAlNA,
    x0: 222.6, x1: 1430.6, t1: 246, t65: 1418.8, yBase: 2081.7, yMin: 0, yRef: 400, yRefPx: 1161.6, yTop: 400, step: 50, minor: 25, tx: 83, ty: 1620, dates: false },
  { title: "Ratio Ca/Al", layers: [caAl053, caAl106, caAl209, caAl411, caAl811, caAl16], ic: caAlIC, na: caAlNA,
    x0: 1660.9, x1: 2868.8, t1: 1682.4, t65: 2856, yBase: 2081.7, yMin: 0, yRef: 700, yRefPx: 1222.5, yTop: 750, step: 100, minor: 50, tx: 1522, ty: 1619, dates: false },
  { title: "Ratio Na/Al", layers: [naAl053, naAl106, naAl209, naAl411, naAl811, naAl16], ic: naAlIC, na: naAlNA,
    x0: 214.8, x1: 1423.7, t1: 239.2, t65: 1411, yBase: 3104.8, yMin: 0, yRef: 100, yRefPx: 2268.6, yTop: 110, step: 20, minor: 10, tx: 78, ty: 2646, dates: false },
  { title: "Ratio Mn/Al", layers: [mnAl053, mnAl106, mnAl209, mnAl411, mnAl811, mnAl16], ic: mnAlIC, na: mnAlNA,
    x0: 1653, x1: 2859, t1: 1677.5, t65: 2849, yBase: 3097.1, yMin: 0, yRef: 14, yRefPx: 2238, yTop: 15, step: 2, minor: 1, tx: 1522, ty: 2635, dates: false },
  { title: "Ratio Mn/Fe", layers: [mnFe053, mnFe106, mnFe209, mnFe411, mnFe811, mnFe16], ic: mnFeIC, na: mnFeNA,
    x0: 212.9, x1: 1417.9, t1: 234.4, t65: 1406, yBase: 4146, yMin: 1, yRef: 15, yRefPx: 3227, yTop: 15, step: 1, minor: 0.5, tx: 93, ty: 3687, dates: true },
  { title: "Ratio Ca/Fe", layers: [caFe053, caFe106, caFe209, caFe411, caFe811, caFe16], ic: caFeIC, na: caFeNA,
    x0: 1640.4, x1: 2849.3, t1: 1660, t65: 2843, yBase: 4148.5, yMin: 0, yRef: 250, yRefPx: 3227.5, yTop: 250, step: 50, minor: 25, tx: 1498, ty: 3687, dates: true },
];

export default function App() {
  const svgRef = useRef<SVGSVGElement>(null);

  useEffect(() => {
    if (!svgRef.current) return;
    // the whole figure must fit the visible page
    document.body.style.margin = "0";
    document.body.style.overflow = "hidden";
    document.documentElement.style.overflow = "hidden";

    const svg = d3.select(svgRef.current);
    svg.selectAll("*").remove();
    svg.append("rect").attr("width", W).attr("height", H).attr("fill", "#fff");
    const defs = svg.append("defs");

    panels.forEach((p, pi) => {
      const x = d3.scaleLinear().domain([0, 99]).range([p.x0, p.x1]);
      const xt = d3.scaleLinear().domain([1, 65]).range([p.t1, p.t65]);
      const yRaw = d3.scaleLinear().domain([p.yMin, p.yRef]).range([p.yBase, p.yRefPx]);
      const y = d3.scaleLinear().domain([p.yMin, p.yTop]).range([p.yBase, yRaw(p.yTop)]);
      const yTopPx = y(p.yTop);

      defs.append("clipPath").attr("id", `clip-${pi}`)
        .append("rect").attr("x", p.x0).attr("y", yTopPx - 2)
        .attr("width", p.x1 - p.x0).attr("height", p.yBase - yTopPx + 2);

      const g = svg.append("g");
      const plot = g.append("g").attr("clip-path", `url(#clip-${pi})`);

      p.layers.forEach((layer, k) => {
        const below = k === 0 ? null : p.layers[k - 1];
        const area = d3.area<number>()
          .defined((d, i) => d != null && (below == null || below[i] != null))
          .x((_, i) => x(i))
          .y0((_, i) => y(below ? below[i] : 0))
          .y1((d) => y(d));
        plot.append("path").datum(layer).attr("d", area).attr("fill", fractionColors[k]);
      });

      // arrows (NA red, IC black)
      const drawArrows = (list: number[][], line: string, head: string) => {
        list.forEach(([s, tip, tail]) => {
          const ax = x(s);
          const ty = y(tip);
          g.append("line").attr("x1", ax).attr("x2", ax)
            .attr("y1", y(tail)).attr("y2", ty - 18)
            .attr("stroke", line).attr("stroke-width", 2.2);
          g.append("path")
            .attr("d", `M${ax - 7},${ty - 22}L${ax + 7},${ty - 22}L${ax},${ty}Z`)
            .attr("fill", head);
        });
      };
      drawArrows(p.na, "#ff5a5a", "#ff1010");
      drawArrows(p.ic, "#222", "#000");

      // y axis
      const majors = d3.range(p.yMin, p.yRef + p.step / 2, p.step);
      const minors = d3.range(p.yMin, p.yTop + p.minor / 2, p.minor)
        .filter((v) => !majors.some((m) => Math.abs(m - v) < 1e-6));
      const yAxisG = g.append("g").attr("transform", `translate(${p.x0},0)`)
        .call(d3.axisLeft(y).tickValues(majors).tickSize(21).tickSizeOuter(0).tickPadding(12)
          .tickFormat((d) => d3.format("~g")(d as number)));
      yAxisG.attr("font-size", 40).attr("font-family", FONT);
      yAxisG.select(".domain").attr("stroke", "#000").attr("stroke-width", 3.5);
      yAxisG.selectAll(".tick line").attr("stroke", "#000").attr("stroke-width", 3);
      yAxisG.selectAll(".tick text").attr("fill", "#111");
      const yMinorG = g.append("g").attr("transform", `translate(${p.x0},0)`)
        .call(d3.axisLeft(y).tickValues(minors).tickSize(11).tickFormat(() => ""));
      yMinorG.select(".domain").remove();
      yMinorG.selectAll(".tick line").attr("stroke", "#000").attr("stroke-width", 3);

      // x axis
      const xAxisG = g.append("g").attr("transform", `translate(0,${p.yBase})`)
        .call(d3.axisBottom(xt).tickValues(d3.range(1, 66)).tickSize(17).tickFormat(() => ""));
      xAxisG.select(".domain").remove();
      xAxisG.selectAll(".tick line").attr("stroke", "#000").attr("stroke-width", 2.5);
      g.append("line").attr("x1", p.x0 - 1.75).attr("x2", p.x1)
        .attr("y1", p.yBase).attr("y2", p.yBase)
        .attr("stroke", "#000").attr("stroke-width", 4);

      if (p.dates) {
        dateLabels.forEach((lab, i) => {
          const lx = xt(2 * i + 1);
          g.append("text")
            .attr("transform", `translate(${lx},${p.yBase + 30}) rotate(76)`)
            .attr("text-anchor", "start")
            .attr("dominant-baseline", "central")
            .attr("font-family", SERIF)
            .attr("font-size", 35)
            .attr("fill", "#111")
            .text(lab);
        });
      }

      g.append("text")
        .attr("transform", `translate(${p.tx},${p.ty}) rotate(-90)`)
        .attr("text-anchor", "middle")
        .attr("dominant-baseline", "central")
        .attr("font-family", FONT)
        .attr("font-size", 48)
        .attr("fill", "#111")
        .text(p.title);
    });

    // legend
    const lg = svg.append("g").attr("font-family", FONT).attr("fill", "#111");
    sizeFractions.forEach((s, i) => {
      const top = 86 + 76 * i;
      lg.append("rect").attr("x", 2507).attr("y", top).attr("width", 123).attr("height", 59)
        .attr("fill", fractionColors[i]).attr("stroke", "#8a8a8a").attr("stroke-width", 1.5);
      const t = lg.append("text").attr("x", 2647).attr("y", top + 49).attr("font-size", 50);
      t.append("tspan").text("PM");
      t.append("tspan").attr("font-size", 34).attr("dy", 11).text(s);
    });
    const legendArrow = (yy: number, line: string, head: string, label: string) => {
      lg.append("line").attr("x1", 2547).attr("x2", 2598).attr("y1", yy).attr("y2", yy)
        .attr("stroke", line).attr("stroke-width", 2.5);
      lg.append("path").attr("d", `M2596,${yy - 6}L2612,${yy}L2596,${yy + 6}Z`).attr("fill", head);
      lg.append("text").attr("x", 2650).attr("y", yy + 18).attr("font-size", 50).text(label);
    };
    legendArrow(570, "#000", "#000", "IC");
    legendArrow(631, "#ff4040", "#ff1010", "NA");
  }, []);

  return (
    <svg
      ref={svgRef}
      viewBox={`0 0 ${W} ${H}`}
      preserveAspectRatio="none"
      style={{ display: "block", width: "100vw", height: "100vh", background: "#ffffff" }}
    />
  );
}
